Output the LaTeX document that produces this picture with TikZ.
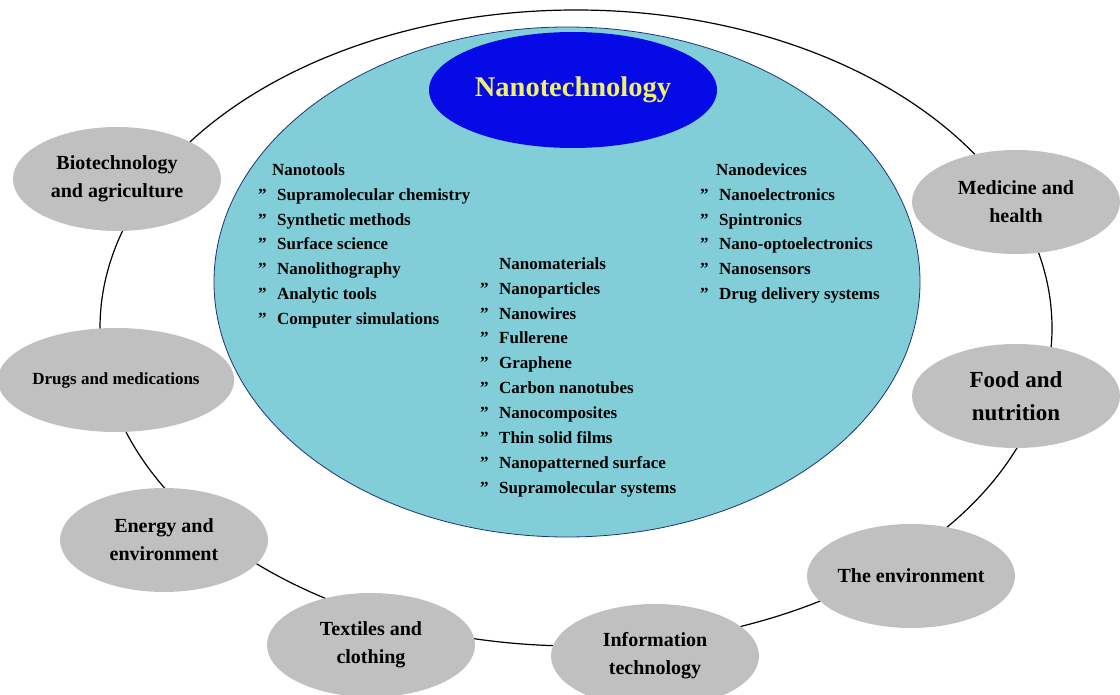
\documentclass[tikz,border=0pt]{standalone}
\usepackage{fontspec}
\setmainfont{Liberation Serif}
\usetikzlibrary{shapes.geometric}
\definecolor{corecyan}{RGB}{130,206,216}
\definecolor{coreedge}{RGB}{30,50,120}
\definecolor{titleblue}{RGB}{5,10,230}
\definecolor{titleyellow}{RGB}{240,240,110}
\definecolor{fieldgray}{RGB}{192,192,192}
\newcommand{\qmark}[1]{\makebox[19pt][l]{”}#1}
\begin{document}
\begin{tikzpicture}[x=1pt,y=-1pt,
    field/.style={ellipse,fill=fieldgray,minimum width=208pt,minimum height=104pt,
      inner sep=0pt,align=center,font=\fontsize{20}{28}\selectfont\bfseries},
    item/.style={anchor=mid west,inner sep=0pt,font=\fontsize{17}{20}\selectfont\bfseries}]
	\useasboundingbox (0,0) rectangle (1120,695);
	% ring and core
	\node[draw,ellipse,line width=1.2pt,minimum width=952pt,minimum height=636pt] (ring) at (576,328) {};
	\node[draw=coreedge,line width=0.8pt,fill=corecyan,ellipse,minimum width=706pt,minimum height=510pt] (core) at (567,282) {};
	\node[ellipse,fill=titleblue,minimum width=288pt,minimum height=116pt,text=titleyellow,
	  font=\fontsize{28.5}{30}\selectfont\bfseries] (title) at (573,90) {Nanotechnology};
	% fields round the ring
	\node[field] (bio) at (117,179) {Biotechnology\\and agriculture};
	\node[field,font=\fontsize{17}{20}\selectfont\bfseries] (drugs) at (116,380) {Drugs and medications};
	\node[field] (energy) at (164,540) {Energy and\\environment};
	\node[field] (textiles) at (371,645) {Textiles and\\clothing};
	\node[field] (info) at (655,656) {Information\\technology};
	\node[field] (envir) at (911,576) {The environment};
	\node[field,font=\fontsize{23}{33}\selectfont\bfseries] (food) at (1016,396) {Food and\\nutrition};
	\node[field] (med) at (1016,202) {Medicine and\\health};
	% lists
	\node[item] (tools) at (272,173) {Nanotools};
	\foreach \txt [count=\i] in {Supramolecular chemistry,Synthetic methods,Surface science,
	    Nanolithography,Analytic tools,Computer simulations}
	  \node[item] (tools-\i) at (258,173+24.9*\i) {\qmark{\txt}};
	\node[item] (mats) at (499,267) {Nanomaterials};
	\foreach \txt [count=\i] in {Nanoparticles,Nanowires,Fullerene,Graphene,Carbon nanotubes,
	    Nanocomposites,Thin solid films,Nanopatterned surface,Supramolecular systems}
	  \node[item] (mats-\i) at (480,267+24.9*\i) {\qmark{\txt}};
	\node[item] (devs) at (716,173) {Nanodevices};
	\foreach \txt [count=\i] in {Nanoelectronics,Spintronics,Nano-optoelectronics,
	    Nanosensors,Drug delivery systems}
	  \node[item] (devs-\i) at (700,173+24.9*\i) {\qmark{\txt}};
\end{tikzpicture}
\end{document}
